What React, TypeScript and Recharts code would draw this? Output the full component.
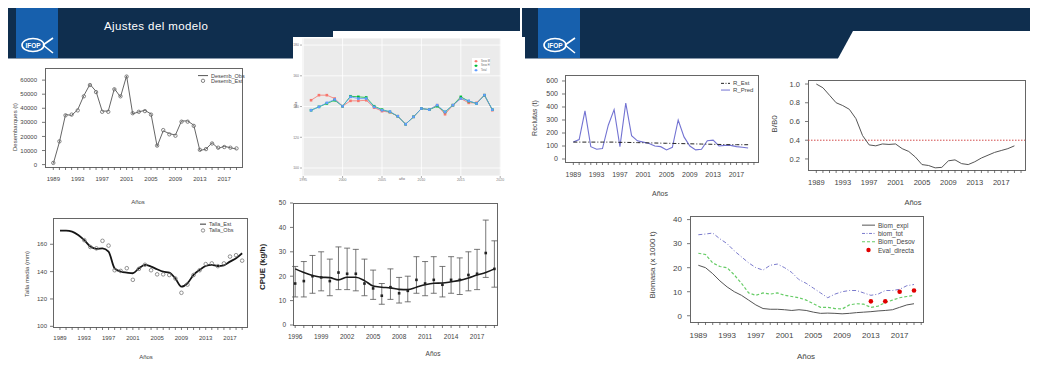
import React from 'react'
import { ComposedChart, Line, XAxis, YAxis, CartesianGrid, ReferenceLine, ErrorBar } from 'recharts'

const FONT = '"Liberation Sans", Arial, Helvetica, sans-serif'
const INK = '#444444'
const NAVY = '#0f2e4e'
const LOGO_BLUE = '#1760ad'

// years shared by most panels
const years = [1989, 1990, 1991, 1992, 1993, 1994, 1995, 1996, 1997, 1998, 1999, 2000, 2001, 2002, 2003, 2004, 2005, 2006, 2007, 2008, 2009, 2010, 2011, 2012, 2013, 2014, 2015, 2016, 2017, 2018, 2019]
const tickYears = [...years, 2020]
const labelYears = [1989, 1993, 1997, 2001, 2005, 2009, 2013, 2017]

// desembarques (t)
const desembObs = [700, 16000, 35500, 35000, 39000, 49000, 57000, 52000, 38000, 38000, 54000, 48000, 63000, 36000, 37500, 38500, 36000, 13000, 24000, 22000, 21000, 31000, 31000, 28000, 10000, 11000, 15500, 11500, 13000, 12000, 11000]
const desembEst = [1200, 16500, 35000, 35500, 38500, 48500, 56500, 51500, 37500, 37500, 53500, 48500, 62500, 36500, 37500, 38000, 35500, 13500, 24500, 21500, 20500, 30500, 30500, 27500, 10500, 11000, 15000, 12000, 12500, 12000, 11500]

// talla media (mm)
const tallaEst = [170, 170, 169.3, 166.8, 163, 158.3, 156.6, 157, 154.6, 142.4, 140, 139.3, 138.8, 142.4, 144.9, 143.7, 141.7, 140, 139.3, 135, 129, 131.5, 137.6, 141.2, 144.1, 144.9, 144.1, 144.6, 147.3, 149.8, 153.4]
const tallaObs = [null, null, null, null, 163, 158, 157, 162.5, 159, 141, 140.5, 142.5, 134, 142, 145, 141, 138, 138, 137.5, 135, 124.5, 130.5, 137.5, 141, 145.5, 146, 144, 146, 151, 152, 148]

// CPUE (kg/h)
const cpueYears = [1996, 1997, 1998, 1999, 2000, 2001, 2002, 2003, 2004, 2005, 2006, 2007, 2008, 2009, 2010, 2011, 2012, 2013, 2014, 2015, 2016, 2017, 2018, 2019]
const cpueLabelYears = [1996, 1999, 2002, 2005, 2008, 2011, 2014, 2017]
const cpueObs = [17, 18, 20, 19.5, 18, 21.5, 21, 21, 17, 15, 12, 15.5, 13, 14, 18.5, 17, 18.5, 16.5, 18.5, 18.5, 20.5, 21, 29.5, 23]
const cpueLow = [11.5, 11.5, 13, 14, 12, 14.5, 14.5, 14, 12, 10.5, 8.5, 10.5, 9, 9.5, 13, 12, 13, 11.5, 13, 12.5, 14, 14.5, 19.5, 15.5]
const cpueHigh = [24, 26, 28.5, 30, 27, 32, 31.5, 31, 27, 22.5, 17, 23, 19.5, 20, 28, 26, 28, 24, 28, 27.5, 30, 31, 43, 34.5]
const cpueFit = [23, 21.5, 20.3, 19.6, 19.4, 18.5, 19.6, 19.6, 18.2, 16, 15.5, 15.2, 14.6, 14.5, 15.5, 16.5, 17.1, 17.2, 17.7, 18.3, 19.3, 20.5, 21.5, 23]

// ggplot panel (three fits)
const ggTicks = [1995, 2000, 2005, 2010, 2015, 2020]
const ggRed = [144.1, 147.4, 147.4, 145.2, 140.2, 143.7, 143.7, 144.1, 139.3, 137.0, 136.3, 133.7, 128.5, 133.3, 138.7, 138.0, 140.9, 135.0, 140.9, 145.2, 142.4, 142.4, 147.4, 137.6]
const ggGreen = [137.6, 139.8, 142.0, 144.1, 140.2, 146.7, 146.3, 145.9, 140.2, 138.0, 136.5, 133.7, 128.5, 133.3, 138.7, 138.0, 140.2, 136.5, 140.9, 146.3, 143.5, 142.0, 147.4, 138.0]
const ggBlue = [137.6, 139.8, 142.4, 144.6, 140.2, 146.3, 145.2, 145.2, 139.8, 137.6, 136.7, 133.7, 128.5, 133.3, 138.7, 138.0, 140.9, 136.5, 140.9, 145.2, 143.7, 142.0, 147.4, 138.0]

// reclutas
const rEst = [130, 130, 130, 130, 130, 130, 130, 130, 128, 128, 127, 126, 125, 124, 123, 122, 121, 120, 119, 118, 117, 116, 115, 114, 113, 112, 111, 110, 110, 110, 110]
const rPred = [130, 150, 370, 95, 75, 80, 260, 380, 95, 430, 180, 140, 130, 120, 100, 95, 70, 90, 300, 170, 100, 70, 75, 140, 145, 100, 105, 105, 95, 90, 85]

// B/B0
const bb0 = [1.0, 0.96, 0.88, 0.8, 0.77, 0.73, 0.63, 0.45, 0.35, 0.34, 0.36, 0.355, 0.36, 0.31, 0.28, 0.22, 0.14, 0.13, 0.105, 0.11, 0.18, 0.19, 0.15, 0.14, 0.17, 0.21, 0.24, 0.27, 0.29, 0.31, 0.34]

// biomasa (x 1000 t)
const biomTot = [33.7, 34, 34.4, 32, 30, 27, 24.5, 22, 20, 19, 21, 21.5, 20, 18, 15, 13.5, 11.5, 9.5, 7.5, 9, 10, 10.5, 10.5, 9.5, 8.5, 9, 10.5, 10.5, 11, 12.5, 13]
const biomDesov = [26, 25.5, 22, 20.5, 20, 17, 13.5, 9.5, 8.5, 9.5, 9, 9.5, 8.5, 8, 7.5, 6.5, 5, 3.5, 3.5, 3, 2.8, 4.5, 5, 4.8, 3.5, 4, 5.5, 6.5, 7.5, 8, 8.5]
const biomExpl = [21, 20, 17.5, 14.5, 12, 10, 8.5, 6.5, 4.5, 3, 2.7, 2.7, 2.5, 2.2, 2.5, 2.2, 1.5, 1, 1.1, 1, 0.8, 1, 1.3, 1.5, 1.7, 2, 2.2, 2.5, 3.5, 4.5, 5]
const evalYears = [2013, 2015, 2017, 2019]
const evalDirecta = [6, 6, 10, 10.5]

const desData = years.map((year, i) => ({ year, obs: desembObs[i], est: desembEst[i] }))
const tallaData = years.map((year, i) => ({ year, est: tallaEst[i], obs: tallaObs[i] }))
const cpueData = cpueYears.map((year, i) => ({ year, obs: cpueObs[i], fit: cpueFit[i], err: [cpueObs[i] - cpueLow[i], cpueHigh[i] - cpueObs[i]] }))
const ggData = cpueYears.map((year, i) => ({ year, red: ggRed[i], green: ggGreen[i], blue: ggBlue[i] }))
const recData = years.map((year, i) => ({ year, est: rEst[i], pred: rPred[i] }))
const bbData = years.map((year, i) => ({ year, bb: bb0[i] }))
const biomData = years.map((year, i) => {
  const k = evalYears.indexOf(year)
  return { year, tot: biomTot[i], desov: biomDesov[i], expl: biomExpl[i], ev: k >= 0 ? evalDirecta[k] : null }
})

type PanelProps = {
  box: [number, number, number, number]
  data: any[]
  xDomain: [number, number]
  yDomain: [number, number]
  xTicks: number[]
  xLabels: number[]
  yTicks: number[]
  yFmt?: (v: number) => string
  fs: number
  xGap: number
  yGap: number
  frame?: boolean
  gg?: boolean
  children: React.ReactNode
}

function Panel({ box, data, xDomain, yDomain, xTicks, xLabels, yTicks, yFmt, fs, xGap, yGap, frame = true, gg = false, children }: PanelProps) {
  const [x0, y0, x1, y1] = box
  const YW = 40
  const XH = 26
  const PAD = 6
  const w = x1 - x0
  const h = y1 - y0
  const tc = gg ? '#999' : '#555'
  const tick = { fontSize: fs, fill: gg ? '#777' : INK, fontFamily: FONT }
  return (
    <>
      {frame && (
        <div style={{ position: 'absolute', left: x0, top: y0, width: w + 1, height: h + 1, border: '1px solid #666', boxSizing: 'border-box' }} />
      )}
      <div style={{ position: 'absolute', left: x0 - YW, top: y0 - PAD }}>
        <ComposedChart width={w + YW + PAD} height={h + PAD + XH} data={data} margin={{ top: PAD, right: PAD, left: 0, bottom: 0 }}>
          {gg && <CartesianGrid fill="#ebebeb" stroke="#ffffff" strokeWidth={0.8} />}
          <XAxis
            dataKey="year"
            type="number"
            domain={xDomain}
            allowDataOverflow
            ticks={xTicks}
            interval={0}
            tickFormatter={(v: number) => (xLabels.includes(v) ? String(v) : '')}
            tick={tick}
            tickLine={{ stroke: tc, strokeWidth: 0.8 }}
            tickSize={gg ? 2 : 3}
            tickMargin={xGap}
            axisLine={false}
            height={XH}
          />
          <YAxis
            type="number"
            domain={yDomain}
            allowDataOverflow
            ticks={yTicks}
            interval={0}
            tickFormatter={yFmt}
            tick={tick}
            tickLine={{ stroke: tc, strokeWidth: 0.8 }}
            tickSize={gg ? 2 : 3}
            tickMargin={yGap}
            axisLine={false}
            width={YW}
          />
          {children}
        </ComposedChart>
      </div>
    </>
  )
}

type Key = { label: string; color: string; mark: 'line' | 'circle' | 'dot' | 'square'; dash?: string; lw?: number }

function Legend({ x, y, items, fs, lh, kw, bg = false }: { x: number; y: number; items: Key[]; fs: number; lh: number; kw: number; bg?: boolean }) {
  return (
    <svg style={{ position: 'absolute', left: x, top: y, overflow: 'visible' }} width={kw + 60} height={items.length * lh}>
      {bg && <rect x={-2} y={-1} width={kw + 14} height={items.length * lh + 2} fill="#ffffff" />}
      {items.map((it, i) => {
        const cy = i * lh + lh / 2
        return (
          <g key={i}>
            {it.mark === 'line' && <line x1={0} x2={kw} y1={cy} y2={cy} stroke={it.color} strokeWidth={it.lw ?? 1} strokeDasharray={it.dash} />}
            {it.mark === 'circle' && <circle cx={kw / 2} cy={cy} r={1.7} fill="none" stroke={it.color} strokeWidth={0.8} />}
            {it.mark === 'dot' && <circle cx={kw / 2} cy={cy} r={2.2} fill={it.color} />}
            {it.mark === 'square' && (
              <g>
                <line x1={0} x2={kw} y1={cy} y2={cy} stroke={it.color} strokeWidth={0.6} />
                <rect x={kw / 2 - 1} y={cy - 1} width={2} height={2} fill={it.color} />
              </g>
            )}
            <text x={kw + 3} y={cy} dominantBaseline="central" fontSize={fs} fill={bg ? '#666' : INK} fontFamily={FONT}>
              {it.label}
            </text>
          </g>
        )
      })}
    </svg>
  )
}

function Txt({ x, y, fs, rot = false, bold = false, color = INK, children }: { x: number; y: number; fs: number; rot?: boolean; bold?: boolean; color?: string; children: React.ReactNode }) {
  return (
    <div
      style={{
        position: 'absolute',
        left: x,
        top: y,
        transform: `translate(-50%, -50%)${rot ? ' rotate(-90deg)' : ''}`,
        fontSize: fs,
        fontFamily: FONT,
        fontWeight: bold ? 700 : 400,
        color,
        whiteSpace: 'nowrap',
        lineHeight: 1,
      }}
    >
      {children}
    </div>
  )
}

function Logo({ x }: { x: number }) {
  return (
    <g>
      <rect x={x} y={3} width={42} height={55} fill={LOGO_BLUE} />
      <ellipse cx={x + 17} cy={45} rx={11} ry={6.5} fill="none" stroke="#fff" strokeWidth={1.6} />
      <text x={x + 17} y={47.5} textAnchor="middle" fontSize={6.5} fontWeight={700} fill="#fff" fontFamily={FONT}>IFOP</text>
      <path d={`M${x + 27} 45 L${x + 37} 38 M${x + 27} 45 L${x + 37} 53`} stroke="#fff" strokeWidth={1.6} fill="none" />
    </g>
  )
}

const squareDot = (color: string, s: number) => (p: any) => {
  if (p.cx == null || p.cy == null || p.value == null) return <g key={p.index} />
  return <rect key={p.index} x={p.cx - s / 2} y={p.cy - s / 2} width={s} height={s} fill={color} />
}

export default function App() {
  return (
    <div style={{ position: 'relative', width: 1038, height: 367, margin: -8, background: '#fff', overflow: 'hidden' }}>
      {/* slide headers */}
      <svg width={1038} height={62} style={{ position: 'absolute', left: 0, top: 0 }}>
        <rect x={3} y={3} width={517} height={55} fill={NAVY} />
        <rect x={522} y={3} width={514} height={55} fill={NAVY} />
        <Logo x={16} />
        <Logo x={538} />
        <polygon points="853,31 1036,31 1036,58.5 838,58.5" fill="#fff" />
        <line x1={3} x2={293} y1={58.5} y2={58.5} stroke="#8797aa" strokeWidth={1} />
        <line x1={522} x2={838} y1={58.5} y2={58.5} stroke="#8797aa" strokeWidth={1} />
        <text x={104} y={30} fontSize={11.5} fill="#fff" fontFamily={FONT} letterSpacing={0.4}>Ajustes del modelo</text>
      </svg>

      {/* ggplot image background */}
      <div style={{ position: 'absolute', left: 293, top: 37, width: 232, height: 143, background: '#fff' }} />
      <div style={{ position: 'absolute', left: 333, top: 31, width: 187, height: 8, background: '#fff' }} />

      {/* Desembarques */}
      <Panel box={[45, 68, 242, 167]} data={desData} xDomain={[1987.64, 2019.9]} yDomain={[-1700, 68600]} xTicks={years} xLabels={labelYears}
        yTicks={[0, 10000, 20000, 30000, 40000, 50000, 60000]} fs={6} xGap={7} yGap={5}>
        <Line dataKey="obs" type="linear" stroke="#666" strokeWidth={1} dot={false} isAnimationActive={false} />
        <Line dataKey="est" type="linear" stroke="none" dot={{ r: 1.7, fill: 'none', stroke: '#666', strokeWidth: 0.8 }} isAnimationActive={false} />
      </Panel>
      <Legend x={198} y={73} fs={5.5} lh={5.2} kw={10} items={[
        { label: 'Desemb_Obs', color: '#555', mark: 'line' },
        { label: 'Desemb_Est', color: '#666', mark: 'circle' },
      ]} />
      <Txt x={15} y={127} fs={6} rot>Desembarques (t)</Txt>
      <Txt x={138} y={202} fs={6}>Años</Txt>

      {/* ggplot panel */}
      <Panel box={[302, 38, 501, 176]} data={ggData} xDomain={[1994.85, 2020.1]} yDomain={[94.8, 184.6]} xTicks={ggTicks} xLabels={ggTicks}
        yTicks={[100, 120, 140, 160, 180]} fs={3.5} xGap={1} yGap={1} frame={false} gg>
        <Line dataKey="red" type="linear" stroke="#F8766D" strokeWidth={0.8} dot={squareDot('#F8766D', 2.6)} isAnimationActive={false} />
        <Line dataKey="green" type="linear" stroke="#00BA38" strokeWidth={0.8} dot={squareDot('#00BA38', 2.6)} isAnimationActive={false} />
        <Line dataKey="blue" type="linear" stroke="#619CFF" strokeWidth={0.8} dot={squareDot('#619CFF', 2.6)} isAnimationActive={false} />
      </Panel>
      <Legend x={474} y={59} fs={2.6} lh={4.5} kw={4} bg items={[
        { label: 'Sexo M', color: '#F8766D', mark: 'square' },
        { label: 'Sexo H', color: '#00BA38', mark: 'square' },
        { label: 'Total', color: '#619CFF', mark: 'square' },
      ]} />
      <Txt x={297} y={105} fs={3.5} rot color="#666">talla</Txt>
      <Txt x={402} y={180} fs={3.5} color="#666">año</Txt>

      {/* Talla media */}
      <Panel box={[53, 218, 247, 327]} data={tallaData} xDomain={[1987.85, 2019.8]} yDomain={[99.5, 179.2]} xTicks={years} xLabels={labelYears}
        yTicks={[100, 120, 140, 160]} fs={6} xGap={6} yGap={3}>
        <Line dataKey="obs" type="linear" stroke="none" dot={{ r: 1.8, fill: 'none', stroke: '#777', strokeWidth: 0.8 }} isAnimationActive={false} />
        <Line dataKey="est" type="monotone" stroke="#151515" strokeWidth={1.8} dot={false} isAnimationActive={false} />
      </Panel>
      <Legend x={200} y={221} fs={5.5} lh={6.3} kw={6} items={[
        { label: 'Talla_Est', color: '#333', mark: 'line' },
        { label: 'Talla_Obs', color: '#777', mark: 'circle' },
      ]} />
      <Txt x={27} y={274} fs={6} rot>Talla media (mm)</Txt>
      <Txt x={146} y={357} fs={6}>Años</Txt>

      {/* CPUE */}
      <Panel box={[293, 203, 497, 325]} data={cpueData} xDomain={[1995.75, 2019.3]} yDomain={[0, 50]} xTicks={cpueYears} xLabels={cpueLabelYears}
        yTicks={[0, 10, 20, 30, 40, 50]} fs={6.5} xGap={6} yGap={4}>
        <Line dataKey="obs" type="linear" stroke="none" dot={squareDot('#222', 2.6)} isAnimationActive={false}>
          <ErrorBar dataKey="err" width={3} stroke="#555" strokeWidth={0.8} direction="y" />
        </Line>
        <Line dataKey="fit" type="monotone" stroke="#1a1a1a" strokeWidth={1.6} dot={false} isAnimationActive={false} />
      </Panel>
      <Txt x={263} y={267} fs={8} rot bold color="#222">CPUE (kg/h)</Txt>
      <Txt x={433} y={354} fs={6.5}>Años</Txt>

      {/* Reclutas */}
      <Panel box={[565, 75, 758, 162]} data={recData} xDomain={[1987.57, 2020.7]} yDomain={[-23, 646]} xTicks={tickYears} xLabels={labelYears}
        yTicks={[0, 100, 200, 300, 400, 500, 600]} fs={7} xGap={7} yGap={4}>
        <Line dataKey="pred" type="linear" stroke="#7373d2" strokeWidth={1.1} dot={false} isAnimationActive={false} />
        <Line dataKey="est" type="linear" stroke="#222" strokeWidth={1} strokeDasharray="4 2 1 2" dot={false} isAnimationActive={false} />
      </Panel>
      <Legend x={721} y={80} fs={6} lh={6.7} kw={9} items={[
        { label: 'R_Est', color: '#222', mark: 'line', dash: '3 1.5 1 1.5' },
        { label: 'R_Pred', color: '#7373d2', mark: 'line' },
      ]} />
      <Txt x={534} y={118} fs={7} rot>Reclutas (t)</Txt>
      <Txt x={660} y={193} fs={7}>Años</Txt>

      {/* B/B0 */}
      <Panel box={[808, 80, 1025, 170]} data={bbData} xDomain={[1987.74, 2020.6]} yDomain={[0.082, 1.043]} xTicks={tickYears} xLabels={labelYears}
        yTicks={[0.2, 0.4, 0.6, 0.8, 1.0]} yFmt={(v) => v.toFixed(1)} fs={7.5} xGap={7} yGap={5}>
        <ReferenceLine y={0.4} stroke="#d24a4a" strokeDasharray="1.5 1.5" strokeWidth={1} />
        <Line dataKey="bb" type="linear" stroke="#555" strokeWidth={1} dot={false} isAnimationActive={false} />
      </Panel>
      <Txt x={775} y={124} fs={8} rot>B/B0</Txt>
      <Txt x={913} y={203} fs={7.5}>Años</Txt>

      {/* Biomasa */}
      <Panel box={[690, 216, 923, 322]} data={biomData} xDomain={[1987.84, 2020.25]} yDomain={[-2.6, 41.5]} xTicks={tickYears} xLabels={labelYears}
        yTicks={[0, 10, 20, 30, 40]} fs={8} xGap={7} yGap={5}>
        <Line dataKey="expl" type="linear" stroke="#555" strokeWidth={1} dot={false} isAnimationActive={false} />
        <Line dataKey="tot" type="linear" stroke="#7a7acc" strokeWidth={1} strokeDasharray="4 2 1 2" dot={false} isAnimationActive={false} />
        <Line dataKey="desov" type="linear" stroke="#66cc66" strokeWidth={1.2} strokeDasharray="3 2" dot={false} isAnimationActive={false} />
        <Line dataKey="ev" type="linear" stroke="none" dot={{ r: 2.3, fill: '#e00000', stroke: 'none' }} isAnimationActive={false} />
      </Panel>
      <Legend x={862} y={221} fs={6.5} lh={8.3} kw={13} items={[
        { label: 'Biom_expl', color: '#555', mark: 'line' },
        { label: 'biom_tot', color: '#7a7acc', mark: 'line', dash: '3 1.5 1 1.5' },
        { label: 'Biom_Desov', color: '#66cc66', mark: 'line', dash: '3 2' },
        { label: 'Eval_directa', color: '#e00000', mark: 'dot' },
      ]} />
      <Txt x={653} y={265} fs={8} rot>Biomasa (x 1000 t)</Txt>
      <Txt x={806} y={357} fs={8}>Años</Txt>
    </div>
  )
}
